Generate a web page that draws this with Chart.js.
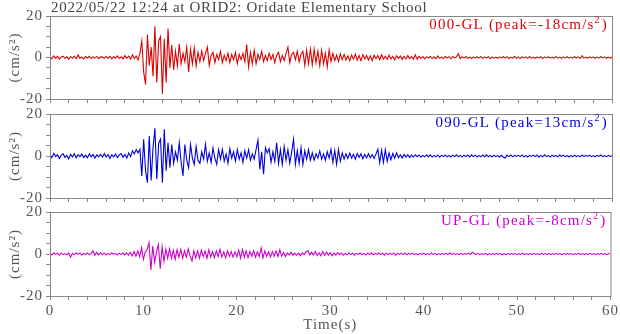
<!DOCTYPE html>
<html>
<head>
<meta charset="utf-8">
<script src="https://cdn.jsdelivr.net/npm/chart.js@4"></script>
<style>
  body { margin: 0; background: #fff; }
  #wrap { position: relative; width: 620px; height: 334px; }
  #wrap canvas { position: absolute; left: 0; top: 0; }
</style>
</head>
<body>
<div id="wrap">
  <canvas id="c0" width="620" height="334"></canvas>
  <canvas id="c1" width="620" height="334"></canvas>
  <canvas id="c2" width="620" height="334"></canvas>
</div>
<script>
const title = '2022/05/22 12:24 at ORID2: Oridate Elementary School';
const sampleStep = 0.2; // seconds between samples
const yTicks = [-20, 0, 20];
const xTicks = [0, 10, 20, 30, 40, 50, 60];

const names = ['000-GL', '090-GL', 'UP-GL'];
const peaks = [-18, 13, -8];
const colors = ['#dd0000', '#0000dd', '#cc00cc'];

// acceleration samples, cm/s^2, every 0.2 s from 0 to 60 s
const ns = [
  0.3, -0.6, 0.8, -0.4, 0.5, -0.8, 0.2, 0.6, -0.5, 0.4,
  -0.9, 0.5, -0.3, 0.7, -0.6, 1.2, -0.4, 0.3, -0.7, 0.5,
  -0.2, 0.6, -0.5, 0.4, -0.3, 0.5, -0.6, 0.3, 0.2, -0.4,
  0.5, -0.3, 0.6, -0.7, 0.4, -0.2, 0.8, -0.5, 0.3, -0.6,
  0.9, -0.4, 0.6, -0.8, 1.3, -0.5, 0.7, -1.2, 2.0, 8,
  -7, -13, 11, -4, 5, -9, 15, -12, 8, 10,
  -17.5, 9, -12, 14, -5, 6, -6, 3, -4, 6.5,
  -3, 2, -2, 5, -7, 4, -3, 4.5, -4, 2.5,
  -2, 3, -1.5, 2, 5, -3.8, 1, 2.5, -2.5, 1.5,
  -1, 3, -2.5, 1, -1.5, 2, -2.5, 1.5, -1, 2.5,
  -3, 1.5, -1, 2, -2, 6.2, -4.6, 2.5, -3, 3.5,
  -3, 1.5, -1, 3, -2, 1, -1.5, 2, -1, 1.5,
  -2.5, 1, 2.5, -2, 1, -1.5, 2, 5, -2.5, 1.5,
  2.5, -1, 3, -2, 1.5, 3, -3.8, 3.5, -3, 4,
  -3.5, 4, -2.5, 3, -4, 3.5, -3, 2, -4.5, 3.6,
  -2, 2, -1.5, 1.2, -2, 1.8, -1, 1.5, -1.2, 0.8,
  -1.5, 1.2, -0.8, 1.6, -1.3, 0.9, -1.6, 1.4, -0.7, 1.0,
  -1.2, 0.8, -1.5, 1.1, -0.6, 0.9, -1.0, 1.3, -0.8, 0.6,
  -0.9, 1.2, -0.7, 0.5, -1.1, 0.8, -0.4, 0.7, -0.9, 0.5,
  -0.6, 0.9, -0.5, 0.4, -0.8, 1.3, -0.9, 0.6, -0.4, 0.5,
  -0.7, 0.4, -0.3, 0.6, -0.5, 0.3, -0.6, 0.8, -0.4, 0.3,
  -0.5, 0.6, -0.3, 0.4, -0.6, 0.5, -0.2, 0.3, 1.8, -0.6,
  0.4, -0.3, 0.5, -0.4, 0.2, -0.5, 0.3, -0.2, 0.4, -0.3,
  0.5, -0.4, 0.3, -0.2, 0.4, -0.6, 0.3, -0.3, 0.2, -0.4,
  0.3, -0.2, 0.5, -0.3, 0.4, -0.5, 0.2, -0.3, 0.6, -0.4,
  0.3, -0.5, 0.4, -0.2, 0.3, -0.4, 0.5, -0.3, 0.2, -0.4,
  0.3, -0.2, 0.4, -0.5, 0.3, -0.2, 0.4, -0.3, 0.2, -0.4,
  0.5, -0.3, 0.2, -0.4, 0.3, -0.2, 0.4, -0.3, 0.2, -0.3,
  0.4, -0.2, 0.3, -0.5, 0.9, -0.3, 0.2, -0.4, 0.3, -0.2,
  0.3, -0.4, 0.2, -0.3, 0.5, -0.2, 0.3, -0.4, 0.2, -0.3,
  0.1
];

const ew = [
  0.5, -0.8, 1.2, -0.3, 0.6, -1.2, 0.4, 1.0, -0.6, 0.3,
  -1.4, 0.8, -0.5, 1.1, -0.9, 0.6, -0.3, 0.9, -0.7, 0.4,
  -0.8, 1.0, -0.4, 0.7, -1.0, 0.5, -0.3, 0.8, -0.6, 1.1,
  -0.5, 0.7, -1.2, 0.6, -0.4, 0.9, -0.8, 0.5, 1.2, -0.6,
  0.8, -1.0, 1.5, -0.4, 2.5, 1.0, 3.0, 1.5, 3.2, -9.5,
  8, -7, -12.7, 9.5, -11.6, 4, 13.2, -11, 6, 8,
  -12.7, 12.7, -7, 6.3, -5.6, 5.5, -3.5, 2, -2, 6.3,
  -3, -9.5, 5.5, -2, -5.6, 5.5, -1, -4, 4.5, -2,
  -3.5, 2, -1.5, 5.5, -2.5, 1.5, -3, 3.8, -1, -4,
  3, -1.5, 3.2, -2.5, 1, -3.5, 3.5, -1, 2, -2.5,
  3, -1.5, 1.5, -3, 2.5, -1, 3, -2, 1, -1.5,
  3, 7.5, -6.3, 2, -8.7, 4, 1.5, 3.5, -3, 2,
  -2.5, 6.3, -3.5, 3, -4, 4.5, -2, 3, -3.5, 2,
  8, -4, 2.5, -3.5, 4, -4, 2.5, -1.5, 3, -2,
  1.5, -2, 1, -1, 2.4, -1.5, 1, -2, 2, -1,
  3.2, -3, 2.5, -4, 3, -2.5, 1.5, -1.5, 1, -1.2,
  1.5, -1, 0.8, -1.5, 1.2, -0.6, 1.0, -1.3, 0.7, -0.9,
  1.1, -0.8, 0.6, -1.2, 0.9, 3.2, -3.2, 2.8, -3, 3,
  -2.5, 1.5, -1.8, 1.2, -1, 1.5, -0.8, 0.6, -1, 0.8,
  -0.5, 0.6, -0.7, 0.4, -0.5, 0.6, -0.3, 0.5, -0.6, 0.3,
  -0.4, 0.5, -0.3, 0.6, -0.5, 0.3, -0.4, 0.5, -0.6, 0.4,
  -0.3, 0.5, -0.4, 0.3, -0.5, 0.4, -0.3, 0.6, -0.4, 0.3,
  -0.5, 0.4, -0.3, 0.5, -0.4, 0.6, -0.3, 0.4, -0.5, 0.3,
  -0.4, 0.5, -0.3, 0.6, -0.4, 0.3, -0.5, 0.4, -0.3, 0.2,
  -0.5, 0.3, -0.6, -1.0, 0.4, -0.3, 0.5, -0.4, 0.3, -0.2,
  0.4, -0.3, 0.5, -0.4, 0.2, -0.5, 0.3, -0.2, 0.4, -0.3,
  0.5, -0.6, 0.3, -0.4, 0.6, -0.3, 0.2, -0.5, 0.4, -0.3,
  0.3, -0.4, 0.5, -0.2, 0.4, -0.3, 0.2, -0.5, 0.3, -0.4,
  0.4, -0.3, 0.2, -0.4, 0.5, -0.3, 0.3, -0.2, 0.4, -0.3,
  0.2, -0.4, 0.3, -0.2, 0.5, -0.3, 0.2, -0.4, 0.3, -0.2,
  0.1
];

const ud = [
  0.3, -0.5, 0.6, -0.2, 0.4, -0.6, 0.5, -0.3, 0.2, -0.4,
  0.5, -1.5, 0.3, -0.4, 0.6, -0.2, 0.4, -0.5, 0.3, -0.3,
  0.5, -0.4, 0.3, 1.5, -0.6, 0.8, -0.5, 0.6, -0.3, 0.4,
  -0.5, 0.3, -0.4, 0.6, -0.2, 0.3, -0.5, 0.4, -0.3, 0.5,
  -0.4, 0.6, -0.5, 0.8, -0.9, 1.2, -1.0, 1.5, -1.2, 3,
  -2.5, 1, 2.2, 5.4, -7.6, 3.8, -4, 1, 4.6, -7,
  3.5, -3.5, 2.2, -2, 2.5, -2, 1.8, -2.5, 2, -1.5,
  2.2, -2, 1.5, -1.5, 2.5, -1, -3.3, 1.5, -1.8, 1.5,
  -2, 1.8, -1.2, 1.5, -2, 2, -1.5, 1.2, -1.8, 1.5,
  -1.2, 2.2, -1.5, 1, -1.8, 1.5, -1, 1.2, -1.5, 1,
  -1.3, 1.8, -2, 2.2, -1.5, 1.5, -1.8, 1.2, -1, 1.5,
  -1.5, 1, -1.2, 3, -1.8, 1.5, -1.2, 1, -1.5, 1.2,
  -1, 1.5, -1.2, 2, -1, 0.6, -1.2, 0.5, -0.4, 0.8,
  -0.5, 0.3, -0.6, 0.4, -0.8, 0.5, -0.3, 1.0, 1.6, -0.4,
  0.8, -0.5, 1.2, -0.8, 0.6, -0.9, 1.2, -0.6, 0.9, -0.5,
  0.6, -0.8, 0.4, -0.5, 0.7, -0.3, 0.5, -0.6, 0.3, -0.4,
  0.5, -0.3, 0.4, -0.6, 0.3, -0.2, 0.5, -0.4, 0.3, -0.5,
  0.4, -0.3, 0.6, -0.4, 0.3, -0.2, 0.5, -0.3, 0.4, -0.6,
  0.3, -0.2, 0.4, -0.3, 0.5, -0.7, 0.3, -0.2, 0.4, -0.3,
  0.5, -0.4, 0.3, -0.2, 0.4, -0.3, 0.2, -0.4, 0.3, -0.2,
  0.4, -0.3, 0.2, -0.3, 0.4, -0.2, 0.3, -0.4, 0.2, -0.3,
  0.3, -0.2, 0.4, -0.3, 0.5, -0.2, 0.3, -0.3, 0.2, -0.2,
  0.3, -0.3, 0.2, -0.2, 0.4, -0.2, 0.8, 0.3, -0.2, 0.3,
  -0.3, 0.2, -0.2, 0.3, -0.4, 0.2, -0.3, 0.2, -0.2, 0.3,
  -0.2, 0.3, -0.5, 0.2, -0.3, 0.2, -0.2, 0.3, -0.2, 0.2,
  -0.3, 0.2, -0.2, 0.3, -0.2, 0.2, -0.3, 0.2, -0.2, 0.3,
  -0.2, 0.2, -0.3, 0.3, -0.2, 0.2, -0.2, 0.3, -0.3, 0.2,
  -0.2, 0.3, -0.2, 0.2, -0.3, 0.2, -0.2, 0.3, -0.2, 0.2,
  -0.3, 0.2, -0.2, 0.3, -0.2, 0.2, -0.3, 0.2, -0.2, 0.3,
  -0.2, 0.2, -0.3, 0.2, -0.2, 0.3, -0.2, 0.2, -0.3, 0.2,
  0
];

const traces = [ns, ew, ud];

// panel boxes in page pixels: [top, bottom]
const panels = [[16, 99], [114, 198], [212, 296]];

const serif = "'Liberation Serif', 'DejaVu Serif', serif";
const textGray = '#555';
const frameGray = '#888';

// wider spacing for axis text, like the original plot
const spacingPlugin = {
  id: 'spacing',
  beforeDraw(chart) { chart.ctx.letterSpacing = '1px'; }
};

const framePlugin = {
  id: 'frame',
  afterDraw(chart) {
    const { ctx, chartArea: a } = chart;
    ctx.save();
    ctx.strokeStyle = frameGray;
    ctx.lineWidth = 1;
    ctx.strokeRect(a.left + 0.5, a.top + 0.5, a.right - a.left, a.bottom - a.top);
    ctx.restore();
  }
};

const labelPlugin = {
  id: 'panelLabel',
  afterDraw(chart, args, opts) {
    const { ctx, chartArea: a } = chart;
    ctx.save();
    ctx.fillStyle = opts.color;
    ctx.textBaseline = 'alphabetic';
    ctx.textAlign = 'left';
    ctx.letterSpacing = '1.2px';
    const big = '15px ' + serif;
    const small = '10px ' + serif;
    const head = opts.name + ' (peak=' + opts.peak + 'cm/s';
    ctx.font = big;
    const wHead = ctx.measureText(head).width;
    const wTail = ctx.measureText(')').width;
    ctx.font = small;
    const wSup = ctx.measureText('2').width + 1;
    const right = a.right - 4;
    const base = a.top + 13;
    let x = right - wTail - wSup - wHead;
    ctx.font = big;
    ctx.fillText(head, x, base);
    x += wHead;
    ctx.font = small;
    ctx.fillText('2', x, base - 6);
    x += wSup;
    ctx.font = big;
    ctx.fillText(')', x, base);
    if (opts.title) {
      ctx.fillStyle = '#444';
      ctx.letterSpacing = '0.7px';
      ctx.font = big;
      ctx.fillText(opts.title, a.left + 1, 12);
    }
    ctx.restore();
  }
};

function makeChart(k) {
  const [top, bottom] = panels[k];
  const last = k === panels.length - 1;
  const xHeight = last ? 38 : 20;
  const points = traces[k].map((v, i) => ({ x: i * sampleStep, y: v }));

  return new Chart(document.getElementById('c' + k), {
    type: 'line',
    data: {
      datasets: [{
        data: points,
        borderColor: colors[k],
        borderWidth: 1.1,
        pointRadius: 0,
        tension: 0
      }]
    },
    options: {
      responsive: false,
      animation: false,
      devicePixelRatio: 1,
      layout: { padding: { left: 0, right: 8, top: top, bottom: 334 - bottom - xHeight } },
      plugins: {
        legend: { display: false },
        tooltip: { enabled: false },
        panelLabel: { color: colors[k], name: names[k], peak: peaks[k], title: k === 0 ? title : null }
      },
      scales: {
        x: {
          type: 'linear',
          min: 0, max: 60,
          afterFit: s => { s.height = xHeight; },
          grid: { drawOnChartArea: false, tickLength: 4, color: frameGray },
          border: { color: frameGray },
          ticks: {
            stepSize: 2,
            autoSkip: false,
            maxRotation: 0,
            color: textGray,
            padding: 2,
            font: { family: serif, size: 15 },
            callback: v => (last && xTicks.includes(v)) ? String(v) : ''
          },
          title: {
            display: last,
            text: 'Time(s)',
            color: textGray,
            font: { family: serif, size: 15 },
            padding: { top: 0, bottom: 0 }
          }
        },
        y: {
          min: -20, max: 20,
          afterFit: s => { s.width = 50; },
          grid: { drawOnChartArea: false, tickLength: 4, color: frameGray },
          border: { color: frameGray },
          ticks: {
            stepSize: 5,
            autoSkip: false,
            color: textGray,
            padding: 3,
            font: { family: serif, size: 15 },
            callback: v => yTicks.includes(v) ? String(v) : ''
          },
          title: {
            display: true,
            text: '(cm/s²)',
            color: textGray,
            font: { family: serif, size: 15 },
            padding: { top: 6, bottom: 0 }
          }
        }
      }
    },
    plugins: [spacingPlugin, framePlugin, labelPlugin]
  });
}

panels.forEach((p, k) => makeChart(k));
</script>
</body>
</html>
